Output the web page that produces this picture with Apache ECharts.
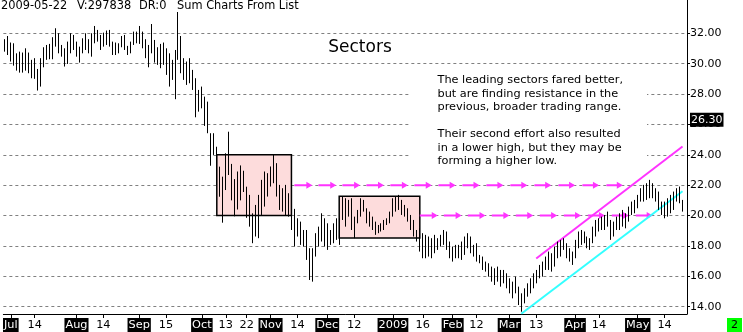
<!DOCTYPE html>
<html><head><meta charset="utf-8">
<script src="https://cdn.jsdelivr.net/npm/echarts@6/dist/echarts.min.js"></script>
<style>html,body{margin:0;padding:0;background:#fff}#c{width:743px;height:332px}</style>
</head><body><div id="c"></div>
<script>
// ---- calendar (NYSE trading days) ----
const firstDay = '2008-06-27';
const lastDay = '2009-05-22';
const holidays = ['2008-07-04','2008-09-01','2008-11-27','2008-12-25','2009-01-01','2009-01-19','2009-02-16','2009-04-10'];

// ---- OHLC range (high / low) per trading day ----
const highs = [31.61,31.82,31.39,31.34,30.68,30.79,30.73,31.01,30.73,30.25,
30.36,29.65,30.36,31.08,31.23,31.30,31.74,32.33,32.00,31.23,
31.01,31.45,32.00,31.89,31.45,31.12,31.67,32.00,31.61,32.00,
32.48,32.22,31.89,32.04,32.18,32.22,31.45,31.39,31.34,31.82,
31.89,31.17,31.45,32.11,32.11,32.48,32.11,31.61,31.23,32.61,
31.56,31.08,31.30,31.39,31.01,30.68,30.25,30.90,33.40,31.82,
30.36,30.14,30.36,29.59,29.04,28.27,28.49,27.83,27.50,25.42,
25.42,24.53,23.22,22.56,24.10,25.52,23.40,22.40,22.90,23.30,
22.95,21.90,21.36,20.15,20.70,21.36,22.35,22.90,22.79,23.23,
24.00,23.45,22.02,21.80,22.02,21.47,20.48,20.44,19.82,19.60,
19.05,19.05,17.85,17.85,18.84,19.27,20.15,19.82,19.49,19.05,
19.49,19.82,19.82,21.25,21.14,21.03,21.14,19.93,20.37,21.14,
21.03,20.48,20.26,19.93,19.60,19.38,19.49,19.71,19.82,20.26,
21.14,21.25,21.36,21.03,20.70,20.48,20.04,19.71,19.05,19.16,
18.84,18.73,18.62,18.51,18.73,18.51,18.73,19.05,18.95,18.29,
17.96,18.07,18.07,18.29,18.62,18.84,18.62,18.07,18.18,17.41,
17.30,16.97,16.86,16.64,16.53,16.64,16.42,16.42,16.20,15.87,
15.65,15.98,15.32,14.88,15.21,15.54,15.87,16.20,16.42,16.75,
16.97,17.30,17.63,17.52,17.96,18.29,18.40,18.51,18.18,17.85,
17.63,18.40,18.95,19.05,18.95,18.62,18.51,19.27,19.71,19.82,
19.93,20.04,20.26,19.71,19.60,19.93,20.15,20.37,20.15,20.59,
20.92,21.03,21.36,21.80,22.02,22.13,22.35,22.13,21.80,21.58,
20.92,20.92,21.14,21.36,21.58,21.80,21.91,21.03];
const lows = [30.79,30.57,30.14,29.87,29.54,29.41,29.41,29.54,29.37,29.04,
29.00,28.23,28.49,29.76,30.25,30.29,30.29,31.12,30.68,30.46,
29.81,29.98,30.68,30.90,30.46,30.07,30.68,30.90,30.68,30.46,
31.34,31.45,30.90,31.12,31.23,31.12,30.57,30.57,30.68,31.08,
30.90,30.57,30.68,31.23,31.34,31.30,31.01,30.36,29.76,30.68,
30.07,29.92,29.70,29.92,29.26,28.49,28.93,27.66,30.25,29.37,
28.93,28.60,28.71,28.27,26.47,26.84,27.06,25.90,25.42,23.28,
23.99,22.01,21.24,19.53,21.68,22.67,21.00,19.95,20.40,21.00,
21.55,19.85,19.27,18.18,18.62,18.51,20.04,20.59,21.25,21.91,
22.13,21.25,20.37,20.26,20.04,19.93,19.05,17.96,18.62,18.07,
17.96,17.08,15.76,15.65,17.30,17.96,18.29,17.96,17.74,18.07,
18.18,18.40,18.07,19.71,19.27,19.93,19.05,18.51,19.49,19.93,
20.26,19.49,19.27,19.05,18.73,18.84,18.95,19.05,19.38,19.49,
19.93,20.26,20.37,20.04,19.93,19.60,19.05,18.62,18.29,17.63,
17.19,17.19,17.30,17.19,17.52,17.74,17.96,18.07,17.74,17.19,
16.97,17.19,17.19,17.08,17.41,17.85,17.52,17.30,16.97,16.86,
16.42,16.31,15.98,15.65,15.43,15.65,15.32,15.54,15.21,14.88,
14.55,14.88,14.11,13.67,14.22,14.66,14.88,15.21,15.54,15.87,
15.98,16.42,16.42,16.31,16.64,17.19,17.30,17.74,17.19,16.97,
16.75,17.19,17.85,18.07,18.18,17.85,17.74,18.18,18.62,18.95,
19.05,19.05,19.27,18.40,18.62,19.05,19.05,19.27,19.16,19.60,
20.04,20.15,20.48,20.92,20.92,21.03,21.14,21.14,20.92,20.37,
20.04,19.82,19.93,20.15,20.37,20.92,20.81,20.26];

// ---- axis tick labels ----
const monthLabels = {'2008-07-01':'Jul','2008-08-01':'Aug','2008-09-02':'Sep','2008-10-01':'Oct','2008-11-03':'Nov','2008-12-01':'Dec','2009-01-02':'2009','2009-02-02':'Feb','2009-03-02':'Mar','2009-04-01':'Apr','2009-05-01':'May'};
const dayLabels = {'2008-07-14':'14','2008-08-14':'14','2008-09-15':'15','2008-10-13':'13','2008-10-22':'22','2008-11-14':'14','2008-12-12':'12','2009-01-16':'16','2009-02-12':'12','2009-03-13':'13','2009-04-14':'14','2009-05-14':'14'};
const yTicks = [14,16,18,20,22,24,26,28,30,32];
const yMin = 13.52, yMax = 34.19;
const lastPrice = 26.30;

// ---- annotations (x = trading-day index) ----
const boxes = [[71, 96, 20.00, 24.00], [112, 139, 18.52, 21.27]];
const arrowLines = [
  {start: 97, level: 22.00, arrows: [102,110,118,126,134,142,150,158,166,174,182,190,198,206]},
  {start: 139, level: 20.00, arrows: [144,152,160,168,176,184,192,200,208,216]}
];
const upperTrend = [[178, 17.17], [227, 24.55]];
const lowerTrend = [[173, 13.54], [227, 21.60]];

const headerParts = [['2009-05-22', 1], ['V:297838', 77], ['DR:0', 139], ['Sum Charts From List', 177]];
const title = 'Sectors';
const note = 'The leading sectors fared better,\nbut are finding resistance in the\nprevious, broader trading range.\n\nTheir second effort also resulted\nin a lower high, but they may be\nforming a higher low.';

function tradingDays(a, b) {
  const out = [];
  const d = new Date(a + 'T00:00:00Z'), end = new Date(b + 'T00:00:00Z');
  while (d <= end) {
    const s = d.toISOString().slice(0, 10), wd = d.getUTCDay();
    if (wd !== 0 && wd !== 6 && holidays.indexOf(s) < 0) out.push(s);
    d.setUTCDate(d.getUTCDate() + 1);
  }
  return out;
}
const dates = tradingDays(firstDay, lastDay);
const categories = dates.concat(['']);

const FONT = 'DejaVu Sans';
const showLabel = (idx, val) => !!(monthLabels[val] || dayLabels[val]);

const chart = echarts.init(document.getElementById('c'), null, {renderer: 'canvas'});

const series = [];
series.push({
  type: 'line', data: [], z: 1, silent: true,
  markArea: {
    silent: true,
    itemStyle: {color: '#fddcdc', borderColor: '#000', borderWidth: 1.5},
    data: boxes.map(b => [{coord: [b[0], b[3]]}, {coord: [b[1], b[2]]}])
  }
});
arrowLines.forEach(al => {
  const data = [{value: [al.start, al.level], symbol: 'none'}].concat(al.arrows.map(a => [a, al.level]));
  series.push({
    type: 'line', data, z: 4, silent: true, animation: false,
    showAllSymbol: true, symbol: 'triangle', symbolRotate: -90, symbolSize: [7, 6],
    itemStyle: {color: '#ff33ff'},
    lineStyle: {color: '#ff33ff', width: 2, type: [15, 9]}
  });
});
series.push({
  type: 'custom', z: 10, silent: true, animation: false,
  data: dates.map((d, i) => [i, lows[i], highs[i]]),
  encode: {x: 0, y: [1, 2]},
  renderItem: function (params, api) {
    const p1 = api.coord([api.value(0), api.value(1)]);
    const p2 = api.coord([api.value(0), api.value(2)]);
    const x = Math.round(p1[0] - 0.5) + 0.5;
    return {type: 'line', shape: {x1: x, y1: p2[1], x2: x, y2: p1[1]}, style: {stroke: '#000', lineWidth: 1}};
  }
});
series.push({type: 'line', data: upperTrend, symbol: 'none', z: 6, silent: true, animation: false, lineStyle: {color: '#ff33ff', width: 2}});
series.push({type: 'line', data: lowerTrend, symbol: 'none', z: 6, silent: true, animation: false, lineStyle: {color: '#33ffff', width: 2}});

chart.setOption({
  animation: false,
  backgroundColor: '#fff',
  textStyle: {fontFamily: FONT},
  grid: {left: 1, top: 0, width: 686, height: 314, containLabel: false},
  xAxis: {
    type: 'category', data: categories, boundaryGap: true,
    axisLine: {show: true, lineStyle: {color: '#000', width: 1}},
    axisTick: {show: true, interval: showLabel, alignWithLabel: true, length: 4, lineStyle: {color: '#000'}},
    axisLabel: {
      interval: showLabel, margin: 4, fontSize: 11, fontFamily: FONT, color: '#000',
      formatter: v => monthLabels[v] ? '{m|' + monthLabels[v] + '}' : (dayLabels[v] ? '{d|' + dayLabels[v] + '}' : ''),
      rich: {
        m: {backgroundColor: '#000', color: '#fff', fontSize: 11.3, fontFamily: FONT, padding: [2, 1, 1, 1]},
        d: {color: '#000', fontSize: 11.3, fontFamily: FONT, padding: [2, 1, 1, 1]}
      }
    },
    splitLine: {show: false}
  },
  yAxis: {
    type: 'value', position: 'right', min: yMin, max: yMax, scale: true,
    axisLine: {show: true, lineStyle: {color: '#000', width: 1}},
    axisTick: {show: true, length: 3, customValues: yTicks, lineStyle: {color: '#000'}},
    axisLabel: {customValues: yTicks, formatter: v => v.toFixed(2), color: '#000', fontSize: 11, fontFamily: FONT, margin: 3},
    splitLine: {show: true, lineStyle: {color: '#808080', width: 1, type: [3, 3]}}
  },
  series
});

const yLast = chart.convertToPixel({yAxisIndex: 0}, lastPrice);
const graphics = [];
headerParts.forEach(h => graphics.push({type: 'text', z: 100, style: {text: h[0], x: h[1], y: 6, font: '11.4px ' + FONT, fill: '#000', verticalAlign: 'middle'}}));
graphics.push({type: 'text', z: 100, style: {text: title, x: 360, y: 48, font: '17px ' + FONT, fill: '#000', align: 'center', verticalAlign: 'middle'}});
graphics.push({type: 'rect', z: 90, shape: {x: 409, y: 67, width: 238, height: 102}, style: {fill: '#fff'}});
graphics.push({type: 'text', z: 100, style: {text: note, x: 437.5, y: 73.5, font: '11.3px ' + FONT, lineHeight: 13.5, fill: '#000', verticalAlign: 'top'}});
graphics.push({type: 'text', z: 100, style: {text: lastPrice.toFixed(2), x: 690, y: yLast, font: '11px ' + FONT, fill: '#fff', backgroundColor: '#000', padding: [2, 1, 1, 1], verticalAlign: 'middle'}});
graphics.push({type: 'rect', z: 100, shape: {x: 727, y: 318, width: 15, height: 14}, style: {fill: '#00ff00'}});
graphics.push({type: 'text', z: 101, style: {text: '2', x: 734.5, y: 325, font: '11px ' + FONT, fill: '#000', align: 'center', verticalAlign: 'middle'}});
chart.setOption({graphic: graphics});
</script>
</body></html>
